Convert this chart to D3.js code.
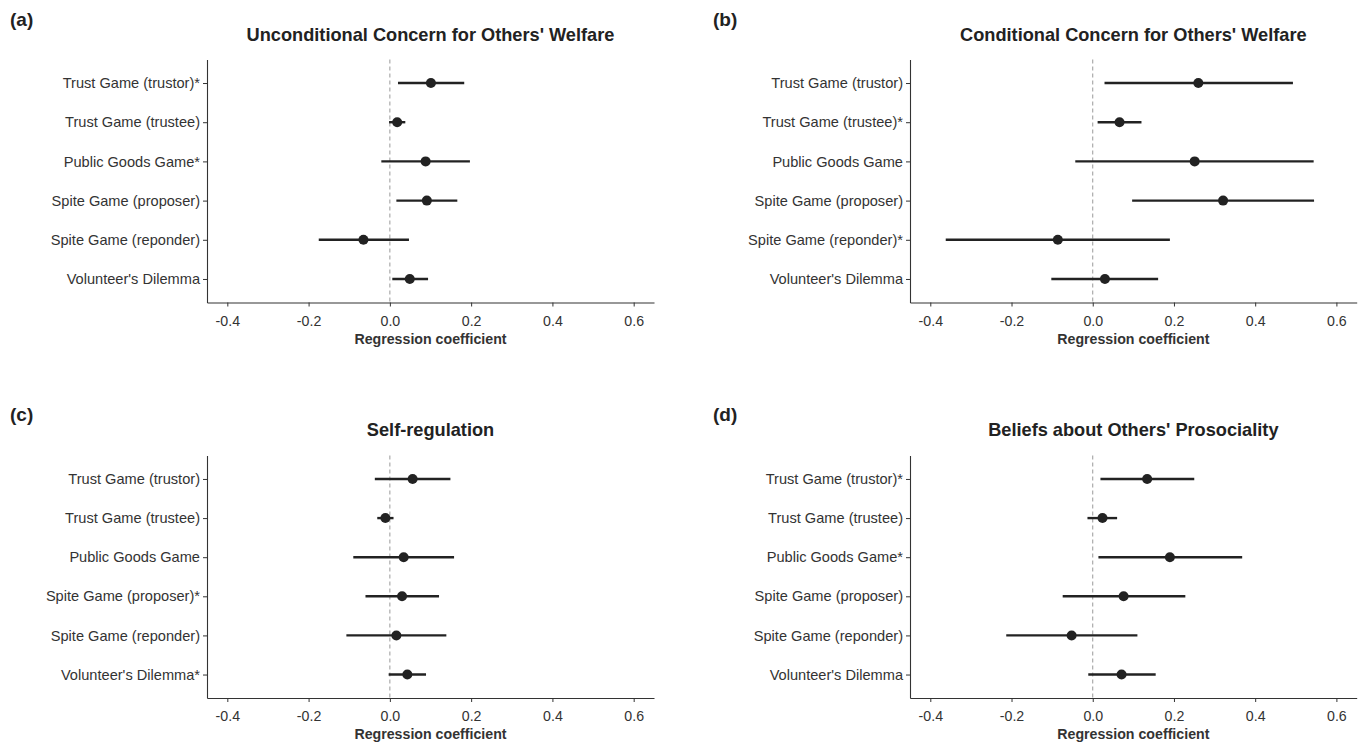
<!DOCTYPE html>
<meta charset="utf-8">
<head>
<style>
  body {
    margin: 0;
    background-color: #ffffff;
    font-family: 'Liberation Sans', Arial, sans-serif;
  }
  .tick text { fill: #333; }
</style>
</head>
<body>
<div id="my_dataviz"></div>
<script src="https://cdn.jsdelivr.net/npm/d3@7"></script>
<script>

// panel titles and letters
var panelLetters = ["(a)", "(b)", "(c)", "(d)"];
var panelTitles = ["Unconditional Concern for Others' Welfare",
                   "Conditional Concern for Others' Welfare",
                   "Self-regulation",
                   "Beliefs about Others' Prosociality"];

// games (row labels, asterisk marks a significant estimate)
var gamesA = ["Trust Game (trustor)*", "Trust Game (trustee)", "Public Goods Game*",
              "Spite Game (proposer)", "Spite Game (reponder)", "Volunteer's Dilemma"];
var gamesB = ["Trust Game (trustor)", "Trust Game (trustee)*", "Public Goods Game",
              "Spite Game (proposer)", "Spite Game (reponder)*", "Volunteer's Dilemma"];
var gamesC = ["Trust Game (trustor)", "Trust Game (trustee)", "Public Goods Game",
              "Spite Game (proposer)*", "Spite Game (reponder)", "Volunteer's Dilemma*"];
var gamesD = ["Trust Game (trustor)*", "Trust Game (trustee)", "Public Goods Game*",
              "Spite Game (proposer)", "Spite Game (reponder)", "Volunteer's Dilemma"];

// regression coefficients with lower / upper interval
var estA = [0.101, 0.018, 0.088, 0.091, -0.065, 0.049];
var lowA = [0.020, -0.002, -0.021, 0.016, -0.175, 0.006];
var highA = [0.183, 0.038, 0.197, 0.166, 0.047, 0.094];

var estB = [0.260, 0.066, 0.251, 0.321, -0.086, 0.030];
var lowB = [0.029, 0.012, -0.043, 0.097, -0.362, -0.102];
var highB = [0.493, 0.120, 0.544, 0.545, 0.190, 0.161];

var estC = [0.056, -0.011, 0.034, 0.030, 0.016, 0.043];
var lowC = [-0.037, -0.031, -0.090, -0.060, -0.107, -0.003];
var highC = [0.149, 0.009, 0.158, 0.121, 0.139, 0.089];

var estD = [0.134, 0.024, 0.190, 0.076, -0.052, 0.071];
var lowD = [0.019, -0.013, 0.014, -0.074, -0.213, -0.011];
var highD = [0.250, 0.060, 0.368, 0.228, 0.110, 0.155];

var xTicks = [-0.4, -0.2, 0.0, 0.2, 0.4, 0.6];
var xDomain = [-0.45, 0.65];

var panels = [
  {games: gamesA, est: estA, low: lowA, high: highA},
  {games: gamesB, est: estB, low: lowB, high: highB},
  {games: gamesC, est: estC, low: lowC, high: highC},
  {games: gamesD, est: estD, low: lowD, high: highD}
];

var W = 1365, H = 744;
var svg = d3.select("#my_dataviz")
  .append("svg")
    .attr("width", W)
    .attr("height", H);

// plot box of each panel
var boxes = [
  {left: 207, right: 654, top: 59.5, bottom: 302.5, ox: 0, oy: 0},
  {left: 910, right: 1356.7, top: 59.5, bottom: 302.5, ox: 703, oy: 0},
  {left: 207, right: 654, top: 455.5, bottom: 698, ox: 0, oy: 395},
  {left: 910, right: 1356.7, top: 455.5, bottom: 698, ox: 703, oy: 395}
];

panels.forEach(function(p, i) {
  var b = boxes[i];
  var rows = p.games.map(function(g, j) {
    return {game: g, est: p.est[j], low: p.low[j], high: p.high[j]};
  });

  var x = d3.scaleLinear().domain(xDomain).range([b.left, b.right]);
  var y = d3.scalePoint().domain(p.games).range([b.top, b.bottom]).padding(0.6);

  var g = svg.append("g");

  // letter
  g.append("text")
    .attr("x", b.ox + 10)
    .attr("y", b.oy + 26)
    .style("font-size", "19px")
    .style("font-weight", "bold")
    .style("fill", "#222")
    .text(panelLetters[i]);

  // title
  g.append("text")
    .attr("x", (b.left + b.right) / 2)
    .attr("y", b.oy + 41)
    .attr("text-anchor", "middle")
    .style("font-size", "18.2px")
    .style("font-weight", "bold")
    .style("fill", "#222")
    .text(panelTitles[i]);

  // zero reference line
  g.append("line")
    .attr("x1", x(0)).attr("x2", x(0))
    .attr("y1", b.top).attr("y2", b.bottom)
    .attr("stroke", "#999")
    .attr("stroke-width", 1)
    .attr("stroke-dasharray", "4,3");

  // axes
  var xAxis = g.append("g")
    .attr("transform", "translate(0," + b.bottom + ")")
    .call(d3.axisBottom(x).tickValues(xTicks).tickSize(4).tickSizeOuter(0));
  xAxis.selectAll("text").style("font-size", "14.2px").attr("dy", "1.15em")
    .text(function(d) { return d.toFixed(1); });

  var yAxis = g.append("g")
    .attr("transform", "translate(" + b.left + ",0)")
    .call(d3.axisLeft(y).tickSize(4).tickSizeOuter(0));
  yAxis.selectAll("text").style("font-size", "14.6px");

  [xAxis, yAxis].forEach(function(a) {
    a.attr("font-family", null);
    a.select(".domain").attr("stroke", "#333").attr("stroke-width", 1.1);
    a.selectAll(".tick line").attr("stroke", "#333");
  });

  // x label
  g.append("text")
    .attr("x", (b.left + b.right) / 2)
    .attr("y", b.bottom + 41)
    .attr("text-anchor", "middle")
    .style("font-size", "14.2px")
    .style("font-weight", "bold")
    .style("fill", "#333")
    .text("Regression coefficient");

  // intervals
  g.selectAll(".ci")
    .data(rows)
    .enter()
    .append("line")
      .attr("class", "ci")
      .attr("x1", function(d) { return x(d.low); })
      .attr("x2", function(d) { return x(d.high); })
      .attr("y1", function(d) { return y(d.game); })
      .attr("y2", function(d) { return y(d.game); })
      .attr("stroke", "#222")
      .attr("stroke-width", 2.4);

  // points
  g.selectAll(".pt")
    .data(rows)
    .enter()
    .append("circle")
      .attr("class", "pt")
      .attr("cx", function(d) { return x(d.est); })
      .attr("cy", function(d) { return y(d.game); })
      .attr("r", 5)
      .style("fill", "#222");
});

</script>
</body>
